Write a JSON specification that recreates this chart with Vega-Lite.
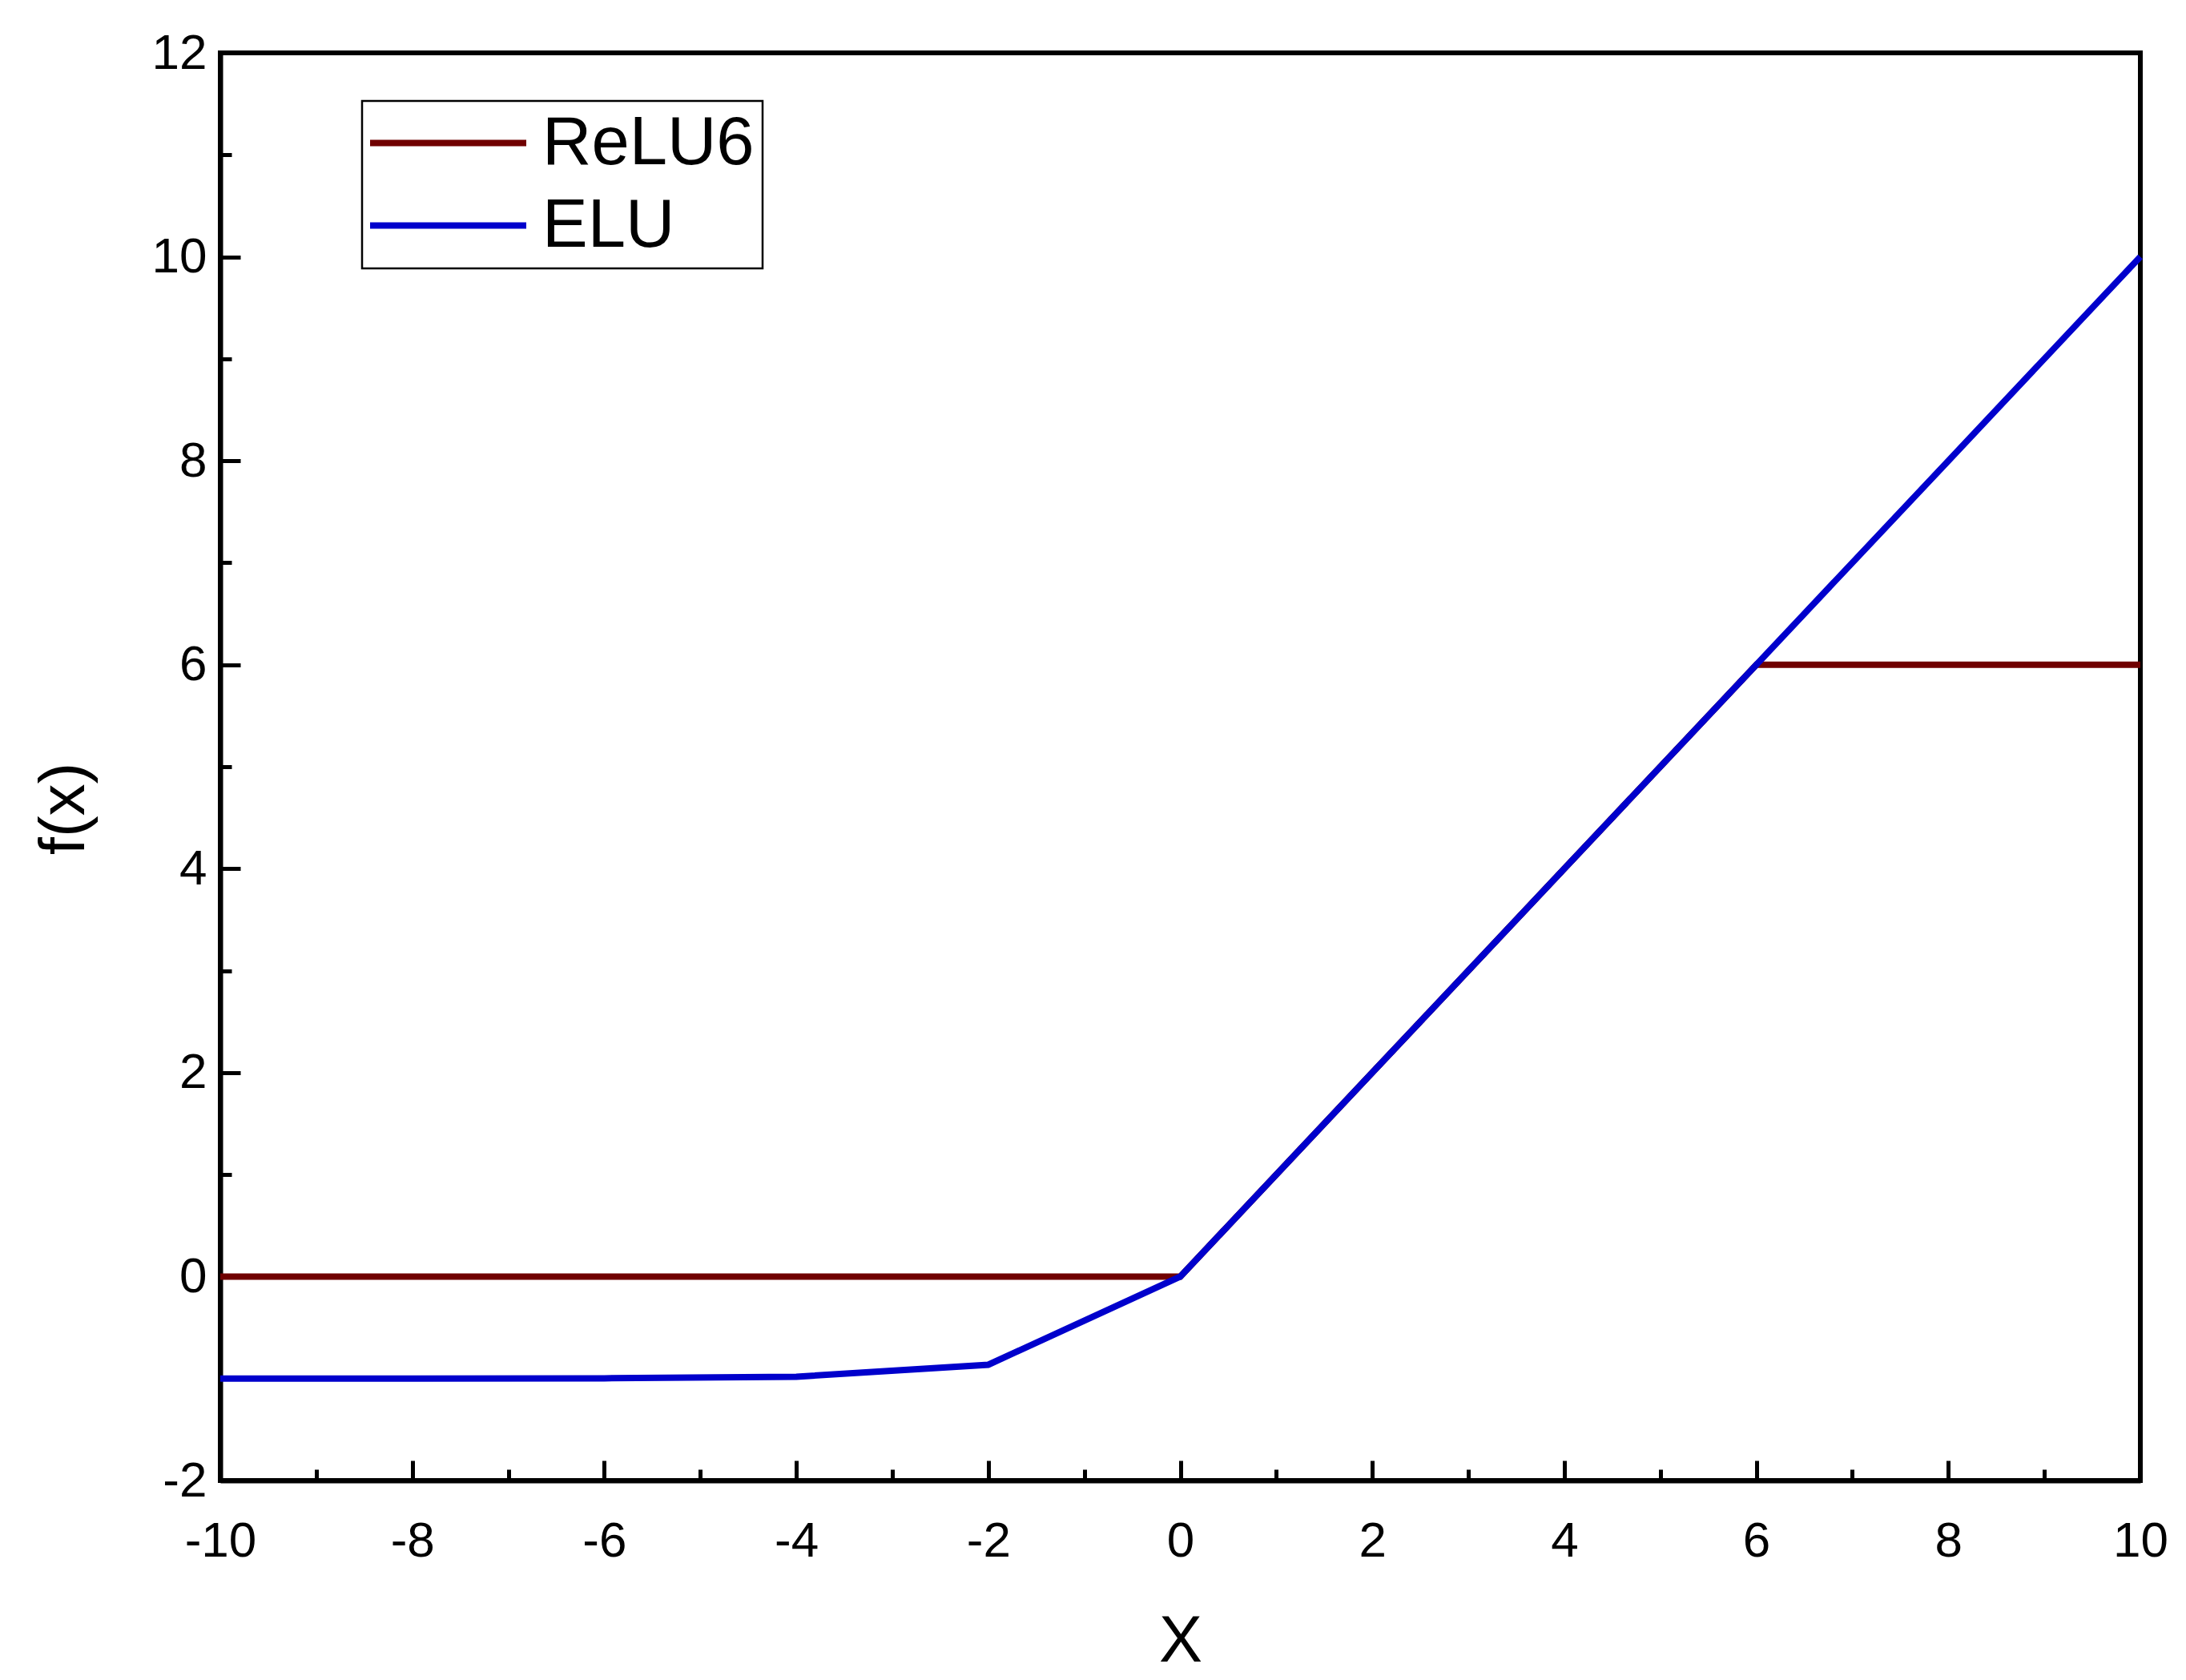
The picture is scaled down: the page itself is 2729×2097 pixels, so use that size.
{
  "$schema": "https://vega.github.io/schema/vega-lite/v6.json",
  "width": 2397,
  "height": 1782,
  "autosize": {"type": "none"},
  "padding": {"left": 275, "top": 66, "right": 57, "bottom": 249},
  "background": "white",
  "config": {
    "view": {"stroke": "black", "strokeWidth": 6},
    "font": "Liberation Sans",
    "legend": {"strokeColor": "black", "strokeWidth": 2.5, "fillColor": "white"},
    "axis": {
      "grid": false,
      "domainColor": "black",
      "domainWidth": 6,
      "tickColor": "black",
      "tickWidth": 5,
      "labelColor": "black",
      "titleColor": "black",
      "labelFont": "Liberation Sans",
      "titleFont": "Liberation Sans",
      "labelFontSize": 62,
      "titleFontSize": 80,
      "titleFontWeight": "normal"
    }
  },
  "data": {
    "values": [
      {"x": -10, "y": 0, "series": "ReLU6"},
      {"x": -8, "y": 0, "series": "ReLU6"},
      {"x": -6, "y": 0, "series": "ReLU6"},
      {"x": -4, "y": 0, "series": "ReLU6"},
      {"x": -2, "y": 0, "series": "ReLU6"},
      {"x": 0, "y": 0, "series": "ReLU6"},
      {"x": 2, "y": 2, "series": "ReLU6"},
      {"x": 4, "y": 4, "series": "ReLU6"},
      {"x": 6, "y": 6, "series": "ReLU6"},
      {"x": 8, "y": 6, "series": "ReLU6"},
      {"x": 10, "y": 6, "series": "ReLU6"},
      {"x": -10, "y": -0.99995, "series": "ELU"},
      {"x": -8, "y": -0.99966, "series": "ELU"},
      {"x": -6, "y": -0.99752, "series": "ELU"},
      {"x": -4, "y": -0.98168, "series": "ELU"},
      {"x": -2, "y": -0.86466, "series": "ELU"},
      {"x": 0, "y": 0, "series": "ELU"},
      {"x": 2, "y": 2, "series": "ELU"},
      {"x": 4, "y": 4, "series": "ELU"},
      {"x": 6, "y": 6, "series": "ELU"},
      {"x": 8, "y": 8, "series": "ELU"},
      {"x": 10, "y": 10, "series": "ELU"}
    ]
  },
  "resolve": {"axis": {"x": "independent", "y": "independent"}},
  "layer": [
    {
      "mark": {"type": "point", "opacity": 0},
      "encoding": {
        "x": {
          "field": "x", "type": "quantitative",
          "scale": {"domain": [-10, 10], "nice": false, "zero": false},
          "axis": {"orient": "bottom", "values": [-9, -7, -5, -3, -1, 1, 3, 5, 7, 9], "tickSize": -14, "labels": false, "domain": false, "title": null}
        },
        "y": {
          "field": "y", "type": "quantitative",
          "scale": {"domain": [-2, 12], "nice": false, "zero": false},
          "axis": {"orient": "left", "values": [-1, 1, 3, 5, 7, 9, 11], "tickSize": -14, "labels": false, "domain": false, "title": null}
        }
      }
    },
    {
      "mark": {"type": "line", "strokeWidth": 8},
      "encoding": {
        "x": {
          "field": "x", "type": "quantitative",
          "scale": {"domain": [-10, 10], "nice": false, "zero": false},
          "axis": {"orient": "bottom", "values": [-10, -8, -6, -4, -2, 0, 2, 4, 6, 8, 10], "tickSize": -25, "labelPadding": 70, "labelExpr": "datum.value + ''", "title": "X", "titleFontSize": 81, "titlePadding": 55, "labelFlush": false}
        },
        "y": {
          "field": "y", "type": "quantitative",
          "scale": {"domain": [-2, 12], "nice": false, "zero": false},
          "axis": {"orient": "left", "values": [-2, 0, 2, 4, 6, 8, 10, 12], "tickSize": -25, "labelPadding": 42, "labelExpr": "datum.value + ''", "title": "f(x)", "titlePadding": 68, "titleY": 943, "labelFlush": false}
        },
        "color": {
          "field": "series", "type": "nominal",
          "scale": {"domain": ["ReLU6", "ELU"], "range": ["#700000", "#0000CC"]},
          "legend": {
            "title": null,
            "orient": "none",
            "legendX": 177,
            "legendY": 60,
            "symbolType": "M-3,0H3",
            "symbolSize": 4225,
            "symbolStrokeWidth": 8,
            "symbolOffset": 55,
            "labelOffset": 75,
            "labelFontSize": 85,
            "labelFont": "Liberation Sans",
            "labelColor": "black",
            "labelLimit": 1000,
            "rowPadding": 17,
            "padding": 10,
            "strokeColor": "black",
            "fillColor": "white"
          }
        }
      }
    }
  ]
}
